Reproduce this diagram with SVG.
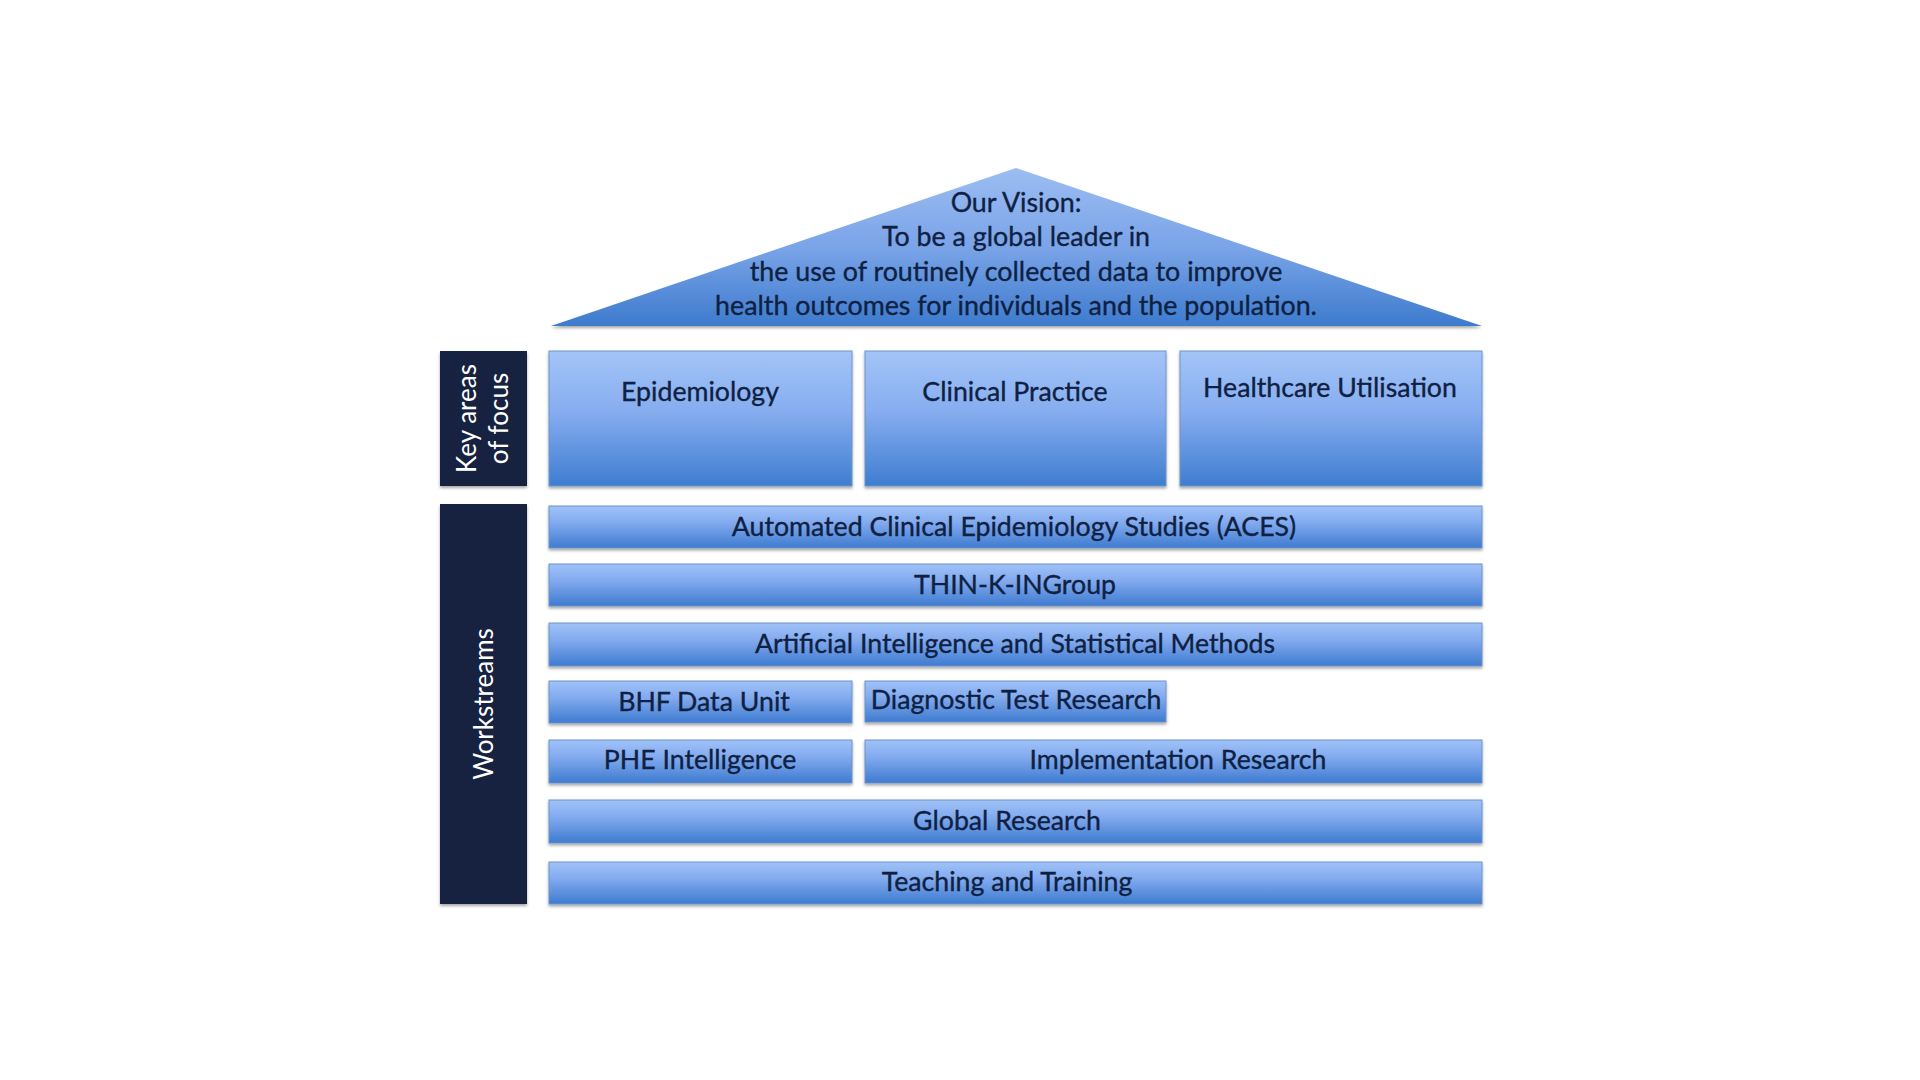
<svg xmlns="http://www.w3.org/2000/svg" width="1920" height="1080" viewBox="0 0 1920 1080">
<defs>
<linearGradient id="gBox" x1="0" y1="0" x2="0" y2="1">
<stop offset="0" stop-color="#a3c4f8"/>
<stop offset="0.45" stop-color="#86adef"/>
<stop offset="1" stop-color="#3f7dd0"/>
</linearGradient>
<linearGradient id="gBar" x1="0" y1="0" x2="0" y2="1">
<stop offset="0" stop-color="#a0c2f8"/>
<stop offset="0.4" stop-color="#82aaee"/>
<stop offset="1" stop-color="#3e7bd0"/>
</linearGradient>
<linearGradient id="gRoof" x1="0" y1="0" x2="0" y2="1">
<stop offset="0" stop-color="#9cbdf2"/>
<stop offset="0.5" stop-color="#7aa4e8"/>
<stop offset="1" stop-color="#3d7bcd"/>
</linearGradient>
<filter id="sh" x="-5%" y="-10%" width="110%" height="130%">
<feDropShadow dx="0" dy="2" stdDeviation="1.6" flood-color="#000" flood-opacity="0.35"/>
</filter>
</defs>
<style>
.box{fill:url(#gBox);stroke:#6f93c8;stroke-width:1;filter:url(#sh)}
.bar{fill:url(#gBar);stroke:#6f93c8;stroke-width:1;filter:url(#sh)}
.dark{fill:#13233f;filter:url(#sh)}
.t{font-family:Lato,"Liberation Sans",sans-serif;fill:#0f2142;stroke:#0f2142;stroke-width:0.35;text-anchor:middle}
.b{font-size:26.7px}
.w{font-family:Lato,"Liberation Sans",sans-serif;fill:#ffffff;text-anchor:middle;font-size:26px}
.v{font-size:26.8px}
</style>
<rect width="1920" height="1080" fill="#ffffff"/>

<g id="roof">
<polygon points="1016,168 1482,326 551,326" fill="url(#gRoof)" filter="url(#sh)"/>
<text class="t v" x="1016" y="212">Our Vision:</text>
<text class="t v" x="1016" y="246">To be a global leader in</text>
<text class="t v" x="1016" y="281">the use of routinely collected data to improve</text>
<text class="t v" x="1016" y="315">health outcomes for individuals and the population.</text>
</g>

<g id="key-areas-label">
<rect class="dark" x="440" y="351" width="87" height="135"/>
<text class="w" transform="translate(476,418.5) rotate(-90)" y="0">Key areas</text>
<text class="w" transform="translate(508,418.5) rotate(-90)" y="0">of focus</text>
</g>

<g id="epidemiology">
<rect class="box" x="549" y="351" width="303" height="135"/>
<text class="t b" x="700" y="401">Epidemiology</text>
</g>
<g id="clinical-practice">
<rect class="box" x="865" y="351" width="301" height="135"/>
<text class="t b" x="1015" y="401">Clinical Practice</text>
</g>
<g id="healthcare-utilisation">
<rect class="box" x="1180" y="351" width="302" height="135"/>
<text class="t b" x="1330" y="397">Healthcare Utilisation</text>
</g>

<g id="workstreams-label">
<rect class="dark" x="440" y="504" width="87" height="400"/>
<text class="w" transform="translate(493,704) rotate(-90)" y="0">Workstreams</text>
</g>

<g id="aces">
<rect class="bar" x="549" y="506" width="933" height="42"/>
<text class="t b" x="1014" y="535.5">Automated Clinical Epidemiology Studies (ACES)</text>
</g>
<g id="thin">
<rect class="bar" x="549" y="564" width="933" height="42"/>
<text class="t b" x="1015" y="593.5">THIN-K-INGroup</text>
</g>
<g id="ai">
<rect class="bar" x="549" y="623" width="933" height="43"/>
<text class="t b" x="1015" y="653">Artificial Intelligence and Statistical Methods</text>
</g>
<g id="bhf">
<rect class="bar" x="549" y="681" width="303" height="42"/>
<text class="t b" x="704" y="711">BHF Data Unit</text>
</g>
<g id="diagnostic">
<rect class="bar" x="865" y="681" width="301" height="41"/>
<text class="t b" x="1016" y="709">Diagnostic Test Research</text>
</g>
<g id="phe">
<rect class="bar" x="549" y="740" width="303" height="43"/>
<text class="t b" x="700" y="768.5">PHE Intelligence</text>
</g>
<g id="implementation">
<rect class="bar" x="865" y="740" width="617" height="43"/>
<text class="t b" x="1178" y="768.5">Implementation Research</text>
</g>
<g id="global">
<rect class="bar" x="549" y="800" width="933" height="43"/>
<text class="t b" x="1007" y="830">Global Research</text>
</g>
<g id="teaching">
<rect class="bar" x="549" y="862" width="933" height="42"/>
<text class="t b" x="1007" y="891">Teaching and Training</text>
</g>

<g id="connectors"></g>
</svg>
